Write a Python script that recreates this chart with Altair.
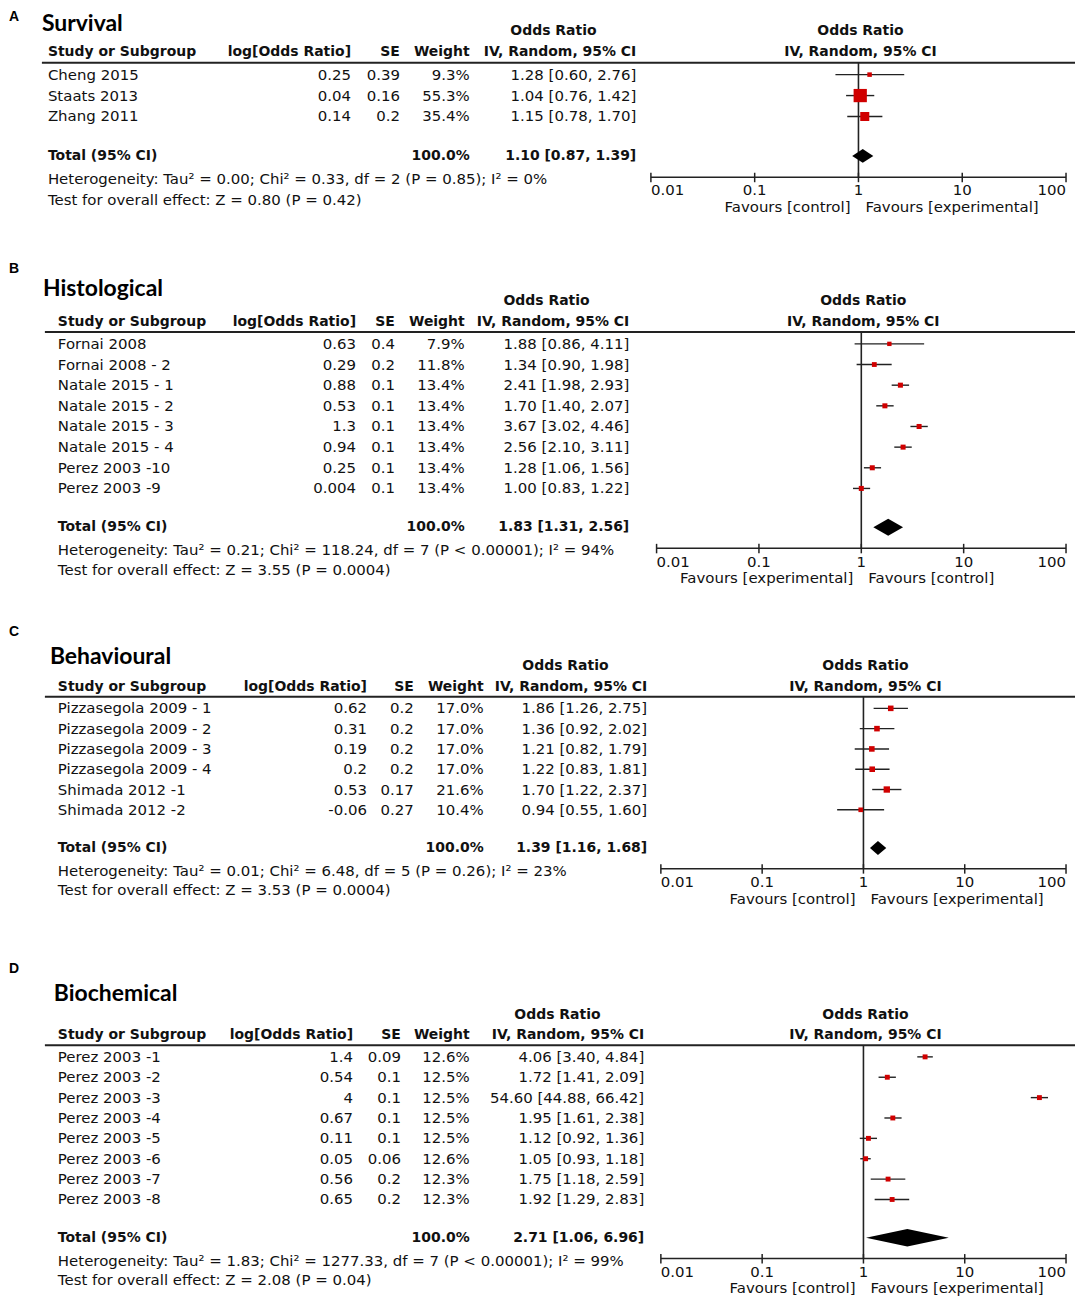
import altair as alt
import pandas as pd

# ---------------- data ----------------
TICKS = [0.01, 0.1, 1, 10, 100]

A_study = ["Cheng 2015", "Staats 2013", "Zhang 2011"]
A_lor = [0.25, 0.04, 0.14]
A_se = [0.39, 0.16, 0.2]
A_wt = [9.3, 55.3, 35.4]
A_or = [1.28, 1.04, 1.15]
A_lo = [0.60, 0.76, 0.78]
A_hi = [2.76, 1.42, 1.70]
A_total = [1.10, 0.87, 1.39]
A_het = "Heterogeneity: Tau\u00b2 = 0.00; Chi\u00b2 = 0.33, df = 2 (P = 0.85); I\u00b2 = 0%"
A_test = "Test for overall effect: Z = 0.80 (P = 0.42)"

B_study = ["Fornai 2008", "Fornai 2008 - 2", "Natale 2015 - 1", "Natale 2015 - 2",
           "Natale 2015 - 3", "Natale 2015 - 4", "Perez 2003 -10", "Perez 2003 -9"]
B_lor = [0.63, 0.29, 0.88, 0.53, 1.3, 0.94, 0.25, 0.004]
B_se = [0.4, 0.2, 0.1, 0.1, 0.1, 0.1, 0.1, 0.1]
B_wt = [7.9, 11.8, 13.4, 13.4, 13.4, 13.4, 13.4, 13.4]
B_or = [1.88, 1.34, 2.41, 1.70, 3.67, 2.56, 1.28, 1.00]
B_lo = [0.86, 0.90, 1.98, 1.40, 3.02, 2.10, 1.06, 0.83]
B_hi = [4.11, 1.98, 2.93, 2.07, 4.46, 3.11, 1.56, 1.22]
B_total = [1.83, 1.31, 2.56]
B_het = "Heterogeneity: Tau\u00b2 = 0.21; Chi\u00b2 = 118.24, df = 7 (P < 0.00001); I\u00b2 = 94%"
B_test = "Test for overall effect: Z = 3.55 (P = 0.0004)"

C_study = ["Pizzasegola 2009 - 1", "Pizzasegola 2009 - 2", "Pizzasegola 2009 - 3",
           "Pizzasegola 2009 - 4", "Shimada 2012 -1", "Shimada 2012 -2"]
C_lor = [0.62, 0.31, 0.19, 0.2, 0.53, -0.06]
C_se = [0.2, 0.2, 0.2, 0.2, 0.17, 0.27]
C_wt = [17.0, 17.0, 17.0, 17.0, 21.6, 10.4]
C_or = [1.86, 1.36, 1.21, 1.22, 1.70, 0.94]
C_lo = [1.26, 0.92, 0.82, 0.83, 1.22, 0.55]
C_hi = [2.75, 2.02, 1.79, 1.81, 2.37, 1.60]
C_total = [1.39, 1.16, 1.68]
C_het = "Heterogeneity: Tau\u00b2 = 0.01; Chi\u00b2 = 6.48, df = 5 (P = 0.26); I\u00b2 = 23%"
C_test = "Test for overall effect: Z = 3.53 (P = 0.0004)"

D_study = ["Perez 2003 -1", "Perez 2003 -2", "Perez 2003 -3", "Perez 2003 -4",
           "Perez 2003 -5", "Perez 2003 -6", "Perez 2003 -7", "Perez 2003 -8"]
D_lor = [1.4, 0.54, 4, 0.67, 0.11, 0.05, 0.56, 0.65]
D_se = [0.09, 0.1, 0.1, 0.1, 0.1, 0.06, 0.2, 0.2]
D_wt = [12.6, 12.5, 12.5, 12.5, 12.5, 12.6, 12.3, 12.3]
D_or = [4.06, 1.72, 54.60, 1.95, 1.12, 1.05, 1.75, 1.92]
D_lo = [3.40, 1.41, 44.88, 1.61, 0.92, 0.93, 1.18, 1.29]
D_hi = [4.84, 2.09, 66.42, 2.38, 1.36, 1.18, 2.59, 2.83]
D_total = [2.71, 1.06, 6.96]
D_het = "Heterogeneity: Tau\u00b2 = 1.83; Chi\u00b2 = 1277.33, df = 7 (P < 0.00001); I\u00b2 = 99%"
D_test = "Test for overall effect: Z = 2.08 (P = 0.04)"

FAV_CE = ("Favours [control]", "Favours [experimental]")
FAV_EC = ("Favours [experimental]", "Favours [control]")

# ---------------- layout / style ----------------
M = 8            # page margin
W = 1070         # panel width
REG = "DejaVu Sans"
RSZ = 15.0
BSZ = 14.0
TXT = "#111111"
RED = "#d00000"
LINE = "#222222"

panels = [
    dict(letter="A", title="Survival", study=A_study, lor=A_lor, se=A_se, wt=A_wt,
         orr=A_or, lo=A_lo, hi=A_hi, total=A_total, het=A_het, test=A_test, fav=FAV_CE,
         y0=73, step=21.0, top=8, bottom=258, title_y=22, letter_y=15, title_x=42,
         cols=dict(study=48, lor=352, se=401, wt=471, ci=638, orh=555, lx=42),
         fx=(652.7, 1069), dh=7),
    dict(letter="B", title="Histological", study=B_study, lor=B_lor, se=B_se, wt=B_wt,
         orr=B_or, lo=B_lo, hi=B_hi, total=B_total, het=B_het, test=B_test, fav=FAV_EC,
         y0=343, step=20.71, top=258, bottom=622, title_y=288, letter_y=268, title_x=43,
         cols=dict(study=58, lor=357, se=396, wt=466, ci=631, orh=548, lx=45),
         fx=(658.4, 1069), dh=8.5),
    dict(letter="C", title="Behavioural", study=C_study, lor=C_lor, se=C_se, wt=C_wt,
         orr=C_or, lo=C_lo, hi=C_hi, total=C_total, het=C_het, test=C_test, fav=FAV_CE,
         y0=708.5, step=20.35, top=622, bottom=958, title_y=657, letter_y=632, title_x=50,
         cols=dict(study=58, lor=368, se=415, wt=485, ci=649, orh=567, lx=45),
         fx=(662.7, 1069), dh=7),
    dict(letter="D", title="Biochemical", study=D_study, lor=D_lor, se=D_se, wt=D_wt,
         orr=D_or, lo=D_lo, hi=D_hi, total=D_total, het=D_het, test=D_test, fav=FAV_CE,
         y0=1058, step=20.43, top=958, bottom=1290, title_y=995, letter_y=970, title_x=54,
         cols=dict(study=58, lor=354, se=402, wt=471, ci=646, orh=559, lx=45),
         fx=(662.7, 1069), dh=8.8),
]


def ci_text(o, l, h):
    return f"{o:.2f} [{l:.2f}, {h:.2f}]"


def build_panel(p):
    n = len(p["study"])
    y0, step = p["y0"], p["step"]
    H = p["bottom"] - p["top"]
    ysc = alt.Scale(domain=[(p["top"] - y0) / step, (p["bottom"] - y0) / step],
                    range=[0, H], zero=False, nice=False)
    xl, xr = p["fx"]
    xsc = alt.Scale(type="log", domain=[TICKS[0], TICKS[-1]], range=[xl - M, xr - M])

    def Y(f="r"):
        return alt.Y(f"{f}:Q", scale=ysc, axis=None)

    def X(f):
        return alt.X(f"{f}:Q", scale=xsc, axis=None)

    # row offsets (in row units)
    r_orh, r_head, r_line = -2.07, -1.07, -0.57
    r_total, r_het, r_test = n + 0.88, n + 2.0, n + 2.97
    r_axis = n + 1.9
    r_tlab = r_axis + 13.3 / step
    r_fav = r_axis + 30.0 / step

    c = p["cols"]
    layers = []

    def text_at(txt, r, x, align="left", bold=False, size=None, font=REG, color=TXT):
        df = pd.DataFrame({"t": [txt], "r": [r]})
        return alt.Chart(df).mark_text(
            align=align, baseline="middle", font=font,
            fontSize=size if size else (BSZ if bold else RSZ),
            fontWeight="bold" if bold else "normal", color=color,
        ).encode(x=alt.value(x - M), y=Y(), text="t:N")

    # letter and title
    layers.append(text_at(p["letter"], (p["letter_y"] - y0) / step, 9, bold=True,
                          size=14, font="Liberation Sans", color="#000"))
    layers.append(text_at(p["title"], (p["title_y"] - y0) / step, p["title_x"], bold=True,
                          size=23, font="Lato", color="#000"))

    # table headers
    layers.append(text_at("Odds Ratio", r_orh, c["orh"], align="center", bold=True))
    layers.append(text_at("Study or Subgroup", r_head, c["study"], bold=True))
    layers.append(text_at("log[Odds Ratio]", r_head, c["lor"], align="right", bold=True))
    layers.append(text_at("SE", r_head, c["se"], align="right", bold=True))
    layers.append(text_at("Weight", r_head, c["wt"], align="right", bold=True))
    layers.append(text_at("IV, Random, 95% CI", r_head, c["ci"], align="right", bold=True))

    # header rule
    layers.append(alt.Chart(pd.DataFrame({"r": [r_line]})).mark_rule(
        color=LINE, strokeWidth=2).encode(x=alt.value(c["lx"] - M), x2=alt.value(W), y=Y()))

    # study rows
    rows = pd.DataFrame({
        "study": p["study"],
        "lor": [str(v) for v in p["lor"]],
        "se": [str(v) for v in p["se"]],
        "wts": [f"{v:.1f}%" for v in p["wt"]],
        "wt": p["wt"],
        "ci": [ci_text(o, l, h) for o, l, h in zip(p["orr"], p["lo"], p["hi"])],
        "orv": p["orr"], "lov": p["lo"], "hiv": p["hi"],
        "r": list(range(n)),
    })
    base = alt.Chart(rows)
    for field, key, align in [("study", "study", "left"), ("lor", "lor", "right"),
                              ("se", "se", "right"), ("wts", "wt", "right"),
                              ("ci", "ci", "right")]:
        layers.append(base.mark_text(align=align, baseline="middle", font=REG,
                                     fontSize=RSZ, color=TXT)
                      .encode(x=alt.value(c[key] - M), y=Y(), text=f"{field}:N"))

    # total row
    t_est, t_lo, t_hi = p["total"]
    layers.append(text_at("Total (95% CI)", r_total, c["study"], bold=True))
    layers.append(text_at("100.0%", r_total, c["wt"], align="right", bold=True))
    layers.append(text_at(ci_text(t_est, t_lo, t_hi), r_total, c["ci"], align="right", bold=True))
    layers.append(text_at(p["het"], r_het, c["study"]))
    layers.append(text_at(p["test"], r_test, c["study"]))

    # ---- forest plot ----
    fhead = pd.DataFrame({"v": [1, 1], "r": [r_orh, r_head],
                          "t": ["Odds Ratio", "IV, Random, 95% CI"]})
    layers.append(alt.Chart(fhead).mark_text(align="center", baseline="middle", font=REG,
                                             fontSize=BSZ, fontWeight="bold", color=TXT, dx=2)
                  .encode(x=X("v"), y=Y(), text="t:N"))

    # null line
    layers.append(alt.Chart(pd.DataFrame({"v": [1], "r": [r_line], "r2": [r_axis]}))
                  .mark_rule(color=LINE, strokeWidth=1.6)
                  .encode(x=X("v"), y=Y(), y2="r2:Q"))
    # axis line
    layers.append(alt.Chart(pd.DataFrame({"a": [TICKS[0]], "b": [TICKS[-1]], "r": [r_axis]}))
                  .mark_rule(color=LINE, strokeWidth=1.5)
                  .encode(x=X("a"), x2="b:Q", y=Y()))
    # ticks
    tk = pd.DataFrame({"v": TICKS, "r": [r_axis - 4.5 / step] * len(TICKS),
                       "r2": [r_axis + 5 / step] * len(TICKS),
                       "t": [str(v) for v in TICKS], "rl": [r_tlab] * len(TICKS)})
    layers.append(alt.Chart(tk).mark_rule(color=LINE, strokeWidth=1.5)
                  .encode(x=X("v"), y=Y(), y2="r2:Q"))
    for sub, align in [(tk.iloc[:1], "left"), (tk.iloc[1:-1], "center"), (tk.iloc[-1:], "right")]:
        layers.append(alt.Chart(sub).mark_text(align=align, baseline="middle", font=REG,
                                               fontSize=RSZ, color=TXT)
                      .encode(x=X("v"), y=Y("rl"), text="t:N"))
    # favours labels
    fav = pd.DataFrame({"v": [1], "r": [r_fav], "a": [p["fav"][0]], "b": [p["fav"][1]]})
    layers.append(alt.Chart(fav).mark_text(align="right", baseline="middle", font=REG,
                                           fontSize=RSZ, color=TXT, dx=-8)
                  .encode(x=X("v"), y=Y(), text="a:N"))
    layers.append(alt.Chart(fav).mark_text(align="left", baseline="middle", font=REG,
                                           fontSize=RSZ, color=TXT, dx=7)
                  .encode(x=X("v"), y=Y(), text="b:N"))

    # CI whiskers and squares
    layers.append(base.mark_rule(color=LINE, strokeWidth=1.4)
                  .encode(x=X("lov"), x2="hiv:Q", y=Y()))
    layers.append(base.mark_square(filled=True, color=RED, opacity=1)
                  .encode(x=X("orv"), y=Y(),
                          size=alt.Size("wt:Q", scale=alt.Scale(type="pow", exponent=2,
                                                                domain=[0, 100], range=[16, 542]),
                                        legend=None)))
    # diamond for total
    dh = p["dh"] / step
    dia = pd.DataFrame({"x": [t_lo, t_est, t_hi],
                        "y": [r_total, r_total - dh, r_total],
                        "y2": [r_total, r_total + dh, r_total]})
    layers.append(alt.Chart(dia).mark_area(color="#000000", opacity=1, interpolate="linear")
                  .encode(x=X("x"), y=Y("y"), y2="y2:Q"))

    return alt.layer(*layers).properties(width=W, height=H)


chart = alt.vconcat(*[build_panel(p) for p in panels], spacing=0).properties(
    padding=0
).configure_view(strokeWidth=0)

chart.save("out.html", embed_options={"renderer": "svg", "actions": False})
